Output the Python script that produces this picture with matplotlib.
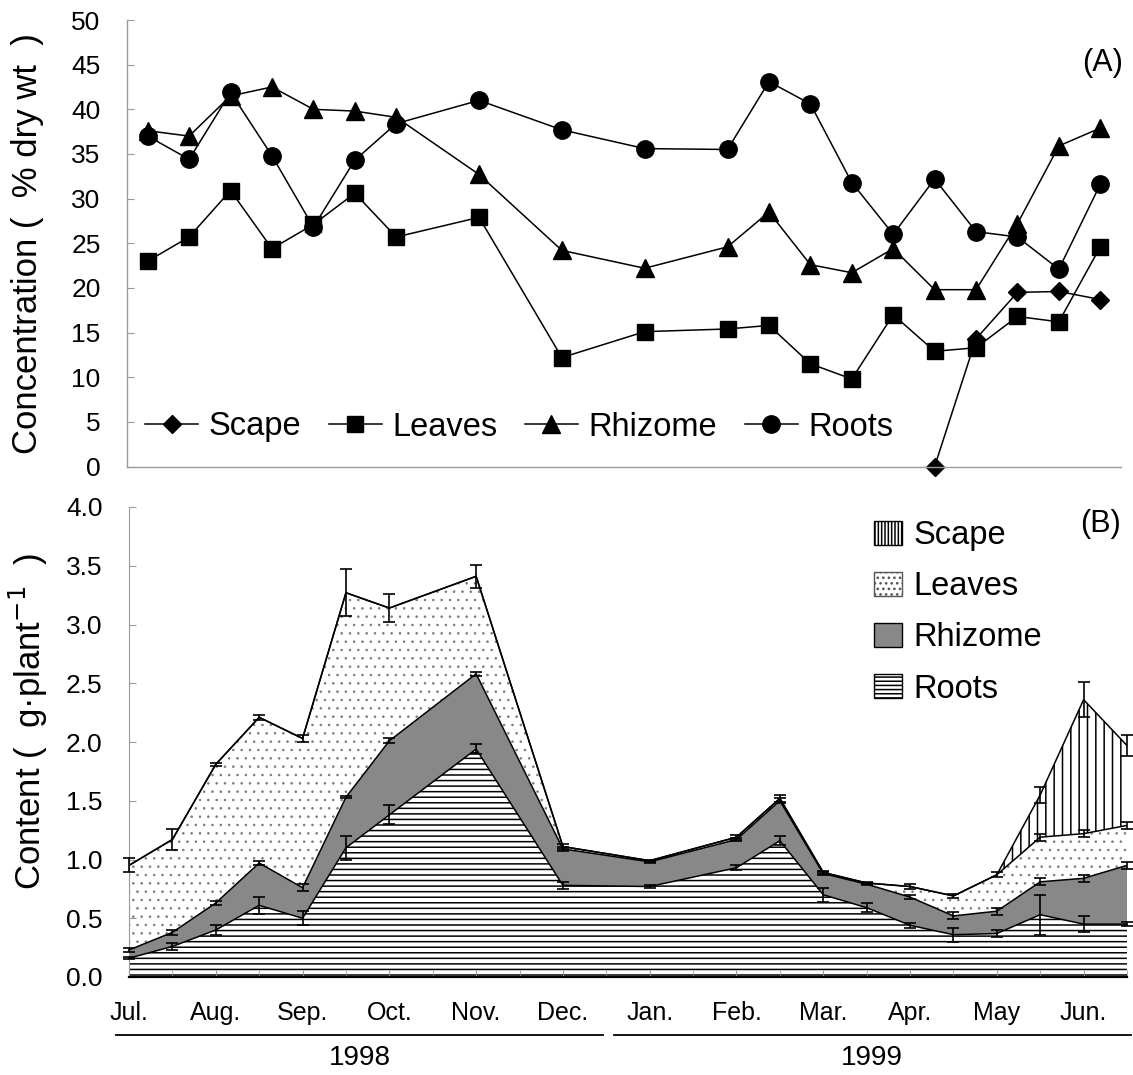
import numpy as np
import matplotlib
matplotlib.use("Agg")
import matplotlib.pyplot as plt
from matplotlib import font_manager
from matplotlib.lines import Line2D
from matplotlib.patches import Patch

OUTPUT_FILE = "out.png"
W, H = 1133, 1075

# sampling dates as half-month slots counted from 1 Jul 1998
sample_slot = [0, 1, 2, 3, 4, 5, 6, 8, 10, 12, 14, 15, 16, 17, 18, 19, 20, 21, 22, 23]
month_slot = [0, 2, 4, 6, 8, 10, 12, 14, 16, 18, 20, 22]
month_labels = ["Jul.", "Aug.", "Sep.", "Oct.", "Nov.", "Dec.",
                "Jan.", "Feb.", "Mar.", "Apr.", "May", "Jun."]
year_labels = ["1998", "1999"]

# (A) concentration, % dry wt
conc_scape = [np.nan] * 15 + [0.0, 14.3, 19.5, 19.6, 18.7]
conc_leaves = [23.0, 25.7, 30.9, 24.4, 27.1, 30.6, 25.7, 27.9, 12.2, 15.1,
               15.4, 15.8, 11.5, 9.8, 17.0, 12.9, 13.3, 16.8, 16.2, 24.6]
conc_rhizome = [37.6, 37.0, 41.5, 42.5, 40.0, 39.8, 39.1, 32.7, 24.2, 22.2,
                24.6, 28.5, 22.6, 21.7, 24.4, 19.8, 19.8, 27.2, 35.9, 37.9]
conc_roots = [37.0, 34.4, 41.9, 34.8, 26.8, 34.3, 38.4, 41.0, 37.7, 35.6,
              35.5, 43.1, 40.6, 31.8, 26.0, 32.2, 26.3, 25.7, 22.1, 31.6]

# (B) content, g per plant (each organ on its own, stacked when drawn)
cont_roots = [0.16, 0.26, 0.40, 0.61, 0.50, 1.10, 1.38, 1.94, 0.78, 0.77,
              0.93, 1.16, 0.70, 0.59, 0.44, 0.36, 0.37, 0.53, 0.45, 0.45]
cont_rhizome = [0.07, 0.12, 0.23, 0.36, 0.26, 0.43, 0.63, 0.64, 0.31, 0.21,
                0.24, 0.34, 0.18, 0.20, 0.24, 0.16, 0.19, 0.28, 0.39, 0.50]
cont_leaves = [0.72, 0.79, 1.18, 1.24, 1.27, 1.74, 1.13, 0.83, 0.02, 0.01,
               0.02, 0.02, 0.01, 0.01, 0.09, 0.17, 0.31, 0.38, 0.38, 0.34]
cont_scape = [0.0] * 16 + [0.0, 0.36, 1.14, 0.68]

se_roots = [0.01, 0.03, 0.04, 0.07, 0.06, 0.10, 0.08, 0.04, 0.03, 0.01,
            0.02, 0.04, 0.06, 0.04, 0.02, 0.06, 0.03, 0.17, 0.07, 0.02]
se_rhizome = [0.02, 0.02, 0.02, 0.02, 0.03, 0.01, 0.02, 0.02, 0.02, 0.01,
              0.01, 0.02, 0.01, 0.01, 0.02, 0.03, 0.03, 0.03, 0.03, 0.03]
se_leaves = [0.06, 0.09, 0.01, 0.02, 0.03, 0.20, 0.12, 0.10, 0.02, 0.01,
             0.02, 0.03, 0.01, 0.01, 0.02, 0.02, 0.02, 0.03, 0.03, 0.03]
se_scape = [np.nan] * 17 + [0.07, 0.15, 0.09]

plt.rcParams["font.family"] = ["Liberation Sans", "DejaVu Sans"]
plt.rcParams["hatch.linewidth"] = 1.1

# tick numbers use a narrow face when one is installed
_installed = {f.name for f in font_manager.fontManager.ttflist}
TICK_FONT = "Liberation Sans Narrow" if "Liberation Sans Narrow" in _installed else "Liberation Sans"

AXIS_GREY = "#9a9a9a"


def fx(px):
    return px / W


def fy(py):
    return 1 - py / H


def plot_concentration(ax):
    x = np.array(sample_slot)
    kw = dict(color="black", lw=1.1, markeredgecolor="black")
    ax.plot(x, conc_scape, marker="D", ms=9, label="Scape", clip_on=False, **kw)
    ax.plot(x, conc_leaves, marker="s", ms=12, label="Leaves", **kw)
    ax.plot(x, conc_rhizome, marker="^", ms=12.5, label="Rhizome", **kw)
    ax.plot(x, conc_roots, marker="o", ms=12.5, label="Roots", **kw)

    ax.set_xlim(-0.5, 23.5)
    ax.set_ylim(0, 50)
    ax.set_yticks(range(0, 51, 5))
    ax.set_xticks([])
    for side in ("top", "right"):
        ax.spines[side].set_visible(False)
    for side in ("left", "bottom"):
        ax.spines[side].set_color(AXIS_GREY)
        ax.spines[side].set_linewidth(1)
    ax.tick_params(axis="y", direction="in", length=5, color=AXIS_GREY,
                   labelsize=19, pad=19, labelfontfamily=TICK_FONT)
    ax.set_ylabel("Concentration (  % dry wt  )", fontsize=25)
    ax.yaxis.set_label_coords(-0.083, 0.5)

    ax.legend(loc="center left", bbox_to_anchor=(fx(145), fy(427)),
              bbox_transform=ax.figure.transFigure, ncol=4, frameon=False,
              fontsize=23.5, handlelength=1.63, handletextpad=0.31,
              columnspacing=0.85, borderpad=0, borderaxespad=0)


def plot_content(ax):
    x = np.array(sample_slot)
    layers = [
        (np.array(cont_roots), "white", "---", "black", 1.1),
        (np.array(cont_rhizome), "#888888", None, "black", 1.1),
        (np.array(cont_leaves), "white", "..", "#7a7a7a", 0.6),
        (np.array(cont_scape), "white", "||", "black", 1.1),
    ]
    base = np.zeros(len(x))
    tops = []
    for vals, face, hatch, hcolor, hlw in layers:
        top = base + vals
        with plt.rc_context({"hatch.color": hcolor, "hatch.linewidth": hlw}):
            ax.fill_between(x, base, top, facecolor=face, hatch=hatch,
                            edgecolor="none", linewidth=0, zorder=1)
        tops.append(top)
        base = top

    for top in tops:
        ax.plot(x, top, color="black", lw=1.1, zorder=2)

    for top, se in zip(tops, [se_roots, se_rhizome, se_leaves, se_scape]):
        ax.errorbar(x, top, yerr=np.array(se), fmt="none", ecolor="black",
                    elinewidth=1.2, capsize=4, capthick=1.2, zorder=3,
                    clip_on=False)

    ax.set_xlim(0, 23)
    ax.set_ylim(0, 4)
    yt = np.arange(0, 4.01, 0.5)
    ax.set_yticks(yt)
    ax.set_yticklabels([f"{v:.1f}" for v in yt])
    ax.set_xticks(month_slot)
    ax.set_xticklabels(month_labels)
    ax.set_xticks(range(24), minor=True)
    for side in ("top", "right"):
        ax.spines[side].set_visible(False)
    ax.spines["left"].set_color(AXIS_GREY)
    ax.spines["bottom"].set_color("black")
    ax.spines["bottom"].set_linewidth(1.6)
    ax.spines["bottom"].set_zorder(4)
    ax.tick_params(axis="y", direction="in", length=5, color=AXIS_GREY,
                   labelsize=19, pad=19, labelfontfamily=TICK_FONT)
    ax.tick_params(axis="x", which="both", direction="in", length=5,
                   color=AXIS_GREY, labelsize=18, pad=17,
                   labelfontfamily=TICK_FONT)
    ax.set_ylabel("Content (  g·plant$^{-1}$  )", fontsize=25)
    ax.yaxis.set_label_coords(-0.079, 0.543)

    handles = [
        Patch(facecolor="white", edgecolor="black", hatch="|||||", label="Scape"),
        Patch(facecolor="white", edgecolor="#555555", hatch="...", label="Leaves"),
        Patch(facecolor="#888888", edgecolor="black", label="Rhizome"),
        Patch(facecolor="white", edgecolor="black", hatch="----", label="Roots"),
    ]
    ax.legend(handles=handles, loc="upper left",
              bbox_to_anchor=(fx(874), fy(520)),
              bbox_transform=ax.figure.transFigure, frameon=False,
              fontsize=23.5, handlelength=0.85, handleheight=0.75,
              handletextpad=0.35, labelspacing=0.62, borderpad=0,
              borderaxespad=0)


def plot():
    fig = plt.figure(figsize=(W / 100, H / 100), dpi=100)
    ax_a = fig.add_axes([fx(127), fy(466.5), (1121 - 127) / W, (466.5 - 20) / H])
    ax_b = fig.add_axes([fx(129), fy(977), (1127 - 129) / W, (977 - 507) / H])

    plot_concentration(ax_a)
    plot_content(ax_b)

    fig.text(fx(1103), fy(63), "(A)", ha="center", va="center", fontsize=22)
    fig.text(fx(1101), fy(524), "(B)", ha="center", va="center", fontsize=22)

    # year brackets under the month labels
    for (x0, x1), xc, year in zip([(116, 603), (614, 1131)], [360, 872], year_labels):
        fig.add_artist(Line2D([fx(x0), fx(x1)], [fy(1035), fy(1035)],
                              transform=fig.transFigure, color="black", lw=1.3))
        fig.text(fx(xc), fy(1058), year, ha="center", va="center", fontsize=20)

    fig.savefig(OUTPUT_FILE, dpi=100)
    plt.close(fig)


if __name__ == "__main__":
    plot()
